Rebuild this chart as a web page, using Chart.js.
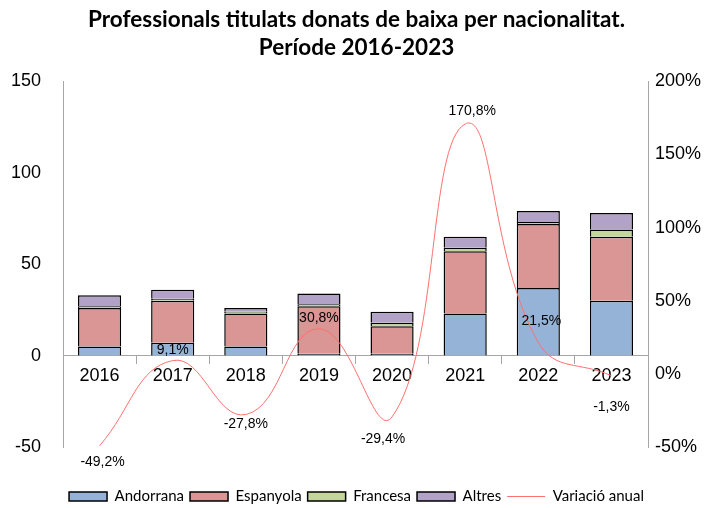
<!DOCTYPE html>
<html>
<head>
<meta charset="utf-8">
<script src="https://cdn.jsdelivr.net/npm/chart.js@4"></script>
<style>
  body { margin: 0; background: #fff; }
</style>
</head>
<body>
<canvas id="c1" width="713" height="508"></canvas>
<script>
// dades
var anys = ["2016", "2017", "2018", "2019", "2020", "2021", "2022", "2023"];
var andorrana = [5, 7, 5, 1, 1, 23, 37, 30];
var espanyola = [21, 23, 18, 26, 15, 34, 35, 35];
var francesa = [1, 1, 1, 1, 2, 2, 1, 4];
var altres = [6, 5, 2, 6, 6, 6, 6, 9];
var variacio = [-49.2, 9.1, -27.8, 30.8, -29.4, 170.8, 21.5, -1.3];

// on va cada etiqueta respecte del punt (dx, dy)
var labelPos = [[3, 16], [0, -10], [0, 10], [0, -11], [-9, 22], [7, -13], [3, -21], [0, 31]];

var tickFont = { family: "'Liberation Sans', Arial", size: 18 };

var pctLabels = {
  id: "pctLabels",
  afterDatasetsDraw: function (chart) {
    var meta = chart.getDatasetMeta(4);
    var ctx = chart.ctx;
    ctx.save();
    ctx.font = "14px 'Liberation Sans', Arial";
    ctx.fillStyle = "#000";
    ctx.textAlign = "center";
    ctx.textBaseline = "middle";
    meta.data.forEach(function (p, i) {
      var t = variacio[i].toFixed(1).replace(".", ",") + "%";
      ctx.fillText(t, p.x + labelPos[i][0], p.y + labelPos[i][1]);
    });
    ctx.restore();
  }
};

function bar(label, data, color) {
  return {
    label: label,
    data: data,
    backgroundColor: color,
    borderColor: "#000",
    borderWidth: 1.5,
    yAxisID: "y",
    stack: "s",
    order: 1,
    categoryPercentage: 0.59,
    barPercentage: 1
  };
}

var ctx = document.getElementById("c1").getContext("2d");
var chart = new Chart(ctx, {
  type: "bar",
  data: {
    labels: anys,
    datasets: [
      bar("Andorrana", andorrana, "#95b3d7"),
      bar("Espanyola", espanyola, "#d99694"),
      bar("Francesa", francesa, "#c3d69b"),
      bar("Altres", altres, "#b3a2c7"),
      {
        type: "line",
        label: "Variació anual",
        data: variacio,
        borderColor: "#ff7070",
        backgroundColor: "#ff7070",
        borderWidth: 1,
        pointRadius: 0,
        tension: 0.45,
        yAxisID: "y1",
        stack: "line",
        order: 0
      }
    ]
  },
  options: {
    responsive: false,
    animation: false,
    layout: { padding: { top: 6, bottom: -6, left: 0, right: 0 } },
    plugins: {
      title: {
        display: true,
        text: ["Professionals titulats donats de baixa per nacionalitat.", "Període 2016-2023"],
        color: "#000",
        font: { family: "Lato, 'Liberation Sans'", size: 22.5, weight: "bold", lineHeight: 1.25 },
        padding: { top: 0, bottom: 19 }
      },
      // espai buit entre el grafic i la llegenda
      subtitle: {
        display: true,
        text: "",
        position: "bottom",
        weight: 500,
        font: { size: 10, lineHeight: 1 },
        padding: { top: 12, bottom: 14 }
      },
      legend: {
        position: "bottom",
        labels: {
          color: "#000",
          font: { family: "Lato, 'Liberation Sans'", size: 15 },
          usePointStyle: true,
          pointStyleWidth: 38,
          boxHeight: 9,
          padding: 6,
          sort: function (a, b) { return a.datasetIndex - b.datasetIndex; },
          generateLabels: function (c) {
            return Chart.defaults.plugins.legend.labels.generateLabels(c).map(function (l) {
              l.pointStyle = l.datasetIndex === 4 ? "line" : "rect";
              l.lineWidth = l.datasetIndex === 4 ? 1 : 1.5;
              return l;
            });
          }
        }
      },
      tooltip: { enabled: false }
    },
    scales: {
      x: {
        stacked: true,
        position: { y: 0 },
        grid: { drawOnChartArea: false, drawTicks: true, tickLength: 8, color: "#a6a6a6", offset: true },
        border: { color: "#a6a6a6" },
        ticks: { color: "#000", font: tickFont, padding: 2 }
      },
      y: {
        stacked: true,
        position: "left",
        min: -50,
        max: 150,
        grid: { display: false, drawTicks: false },
        border: { color: "#a6a6a6" },
        ticks: { stepSize: 50, color: "#000", font: tickFont, padding: 22 },
        afterFit: function (s) { s.width = 63; }
      },
      y1: {
        position: "right",
        min: -50,
        max: 200,
        grid: { display: false, drawTicks: false },
        border: { color: "#a6a6a6" },
        ticks: {
          stepSize: 50,
          color: "#000",
          font: tickFont,
          padding: 7,
          callback: function (v) { return v + "%"; }
        },
        afterFit: function (s) { s.width = 65; }
      }
    }
  },
  plugins: [pctLabels]
});
</script>
</body>
</html>
